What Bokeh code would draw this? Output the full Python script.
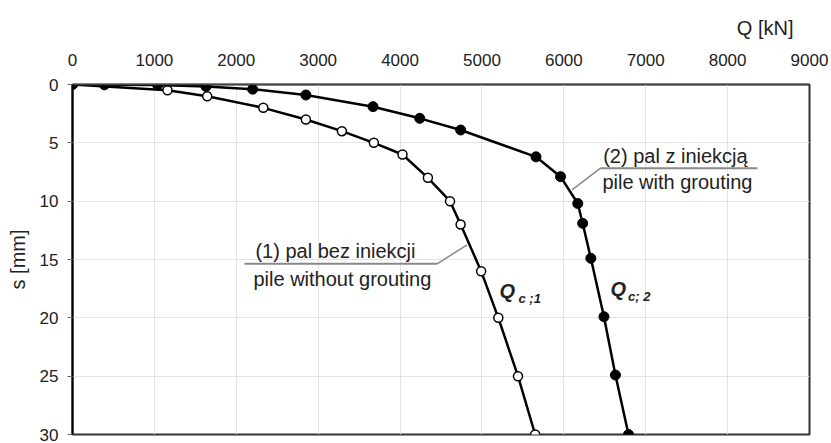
from bokeh.plotting import figure
from bokeh.models import Range1d, Label, FixedTicker, ColumnDataSource
from bokeh.embed import file_html
from bokeh.resources import INLINE

# ---- data ----
q1 = [0, 1160, 1645, 2330, 2850, 3290, 3680, 4030, 4340, 4610, 4740, 4990, 5200, 5440, 5650]
s1 = [0.0, 0.5, 1.0, 2.0, 3.0, 4.0, 5.0, 6.0, 8.0, 10.0, 12.0, 16.0, 20.0, 25.0, 30.0]
q2 = [0, 390, 1040, 1630, 2200, 2850, 3670, 4240, 4740, 5660, 5960, 6170, 6230, 6330, 6490, 6630, 6790]
s2 = [0.0, 0.03, 0.05, 0.17, 0.4, 0.9, 1.9, 2.9, 3.9, 6.2, 7.9, 10.2, 11.9, 14.9, 19.9, 24.9, 30.0]
x_ticks = [0, 1000, 2000, 3000, 4000, 5000, 6000, 7000, 8000, 9000]
y_ticks = [0, 5, 10, 15, 20, 25, 30]

FONT = "Liberation Sans"
TXT = "#222222"

p = figure(width=831, height=443, output_backend="svg", toolbar_location=None,
           x_range=Range1d(0, 9000), y_range=Range1d(30, 0),
           x_axis_location="above",
           min_border_left=72, min_border_right=22, min_border_top=84, min_border_bottom=9)
p.background_fill_color = "white"
p.border_fill_color = "white"
p.outline_line_color = "#333333"
p.outline_line_width = 2

# x-axis title ("Q [kN]") at the top right
p.title.text = "Q [kN]"
p.title.align = "right"
p.title.offset = 16
p.title.standoff = 24
p.title.text_font = FONT
p.title.text_font_size = "20px"
p.title.text_font_style = "normal"
p.title.text_color = TXT

# axes
xa = p.xaxis[0]
xa.ticker = FixedTicker(ticks=x_ticks)
xa.major_tick_out = 0
xa.major_tick_in = 0
xa.minor_tick_out = 0
xa.minor_tick_in = 0
xa.axis_line_color = "#444444"
xa.axis_line_width = 1.5
xa.major_label_standoff = 19
xa.major_label_text_font = FONT
xa.major_label_text_font_size = "17px"
xa.major_label_text_color = TXT

ya = p.yaxis[0]
ya.ticker = FixedTicker(ticks=y_ticks)
ya.major_tick_out = 5
ya.major_tick_in = 0
ya.minor_tick_out = 0
ya.minor_tick_in = 0
ya.major_tick_line_color = "#666666"
ya.axis_line_color = "black"
ya.axis_line_width = 2
ya.major_label_standoff = 9
ya.major_label_text_font = FONT
ya.major_label_text_font_size = "17px"
ya.major_label_text_color = TXT
ya.axis_label = "s [mm]"
ya.axis_label_text_font = FONT
ya.axis_label_text_font_size = "20px"
ya.axis_label_text_font_style = "normal"
ya.axis_label_text_color = TXT
ya.axis_label_standoff = 8

p.xgrid.ticker = FixedTicker(ticks=x_ticks)
p.ygrid.ticker = FixedTicker(ticks=y_ticks)
p.grid.grid_line_color = "#e4e4e4"
p.grid.grid_line_width = 1

# leader lines and underlines for annotations
p.line([6447, 8364], [7.17, 7.17], line_color="#888888", line_width=2)
p.line([6447, 6101], [7.17, 9.03], line_color="#888888", line_width=1.5)
p.line([2100, 4453], [15.37, 15.37], line_color="#888888", line_width=2)
p.line([4453, 4819], [15.37, 13.74], line_color="#888888", line_width=1.5)

# series
src1 = ColumnDataSource(dict(q=q1, s=s1))
src2 = ColumnDataSource(dict(q=q2, s=s2))
p.line("q", "s", source=src1, line_color="black", line_width=2.5)
p.scatter("q", "s", source=src1, size=9, fill_color="white", line_color="black", line_width=1.5)
p.line("q", "s", source=src2, line_color="black", line_width=2.5)
p.scatter("q", "s", source=src2, size=10, fill_color="black", line_color="black")

def lab(x, y, text, size="20px", style="normal", align="left"):
    p.add_layout(Label(x=x, y=y, text=text, text_font=FONT, text_font_size=size,
                       text_font_style=style, text_color=TXT, text_align=align,
                       text_baseline="middle"))

lab(6480, 6.09, "(2) pal z iniekcją")
lab(6471, 8.35, "pile with grouting")
lab(2234, 14.31, "(1) pal bez iniekcji")
lab(2210, 16.7, "pile without grouting")

lab(5214, 17.66, "Q", size="20px", style="bold italic")
lab(5446, 18.3, "c ;1", size="13px", style="bold italic")
lab(6569, 17.57, "Q", size="20px", style="bold italic")
lab(6785, 18.2, "c; 2", size="13px", style="bold italic")

open("out.html", "w").write(file_html(p, INLINE))
